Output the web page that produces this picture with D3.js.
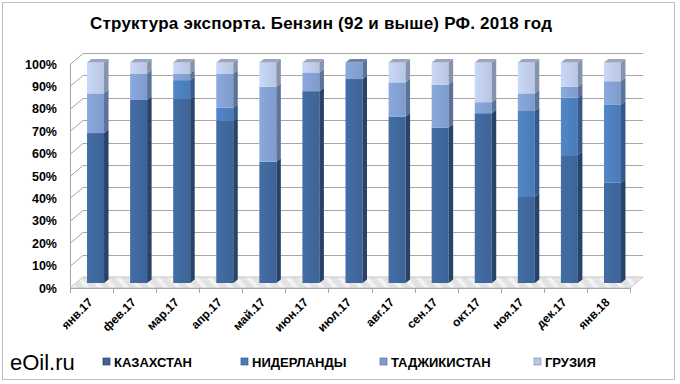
<!DOCTYPE html>
<html>
<head>
<meta charset="utf-8">
<script src="https://cdn.jsdelivr.net/npm/d3@7"></script>
<style>
body{margin:0;background:#fff;}
svg{display:block;font-family:"Liberation Sans",Arial,sans-serif;}
</style>
</head>
<body>
<svg id="chart" width="680" height="384"></svg>
<script>
// months on the x axis
var months = ["янв.17","фев.17","мар.17","апр.17","май.17","июн.17","июл.17","авг.17","сен.17","окт.17","ноя.17","дек.17","янв.18"];
// shares, %
var kazakhstan = [68,83,83.5,73.5,55,87,92.5,75.5,70.5,77,39,58,45.5];
var niderlandy = [0,0,8.5,6,0,0,0,0,0,0,39,26,35.5];
var tadzhikistan = [18,12,3,15.5,34,8.5,7.5,15.5,19.5,5,8,5,10.5];
var gruziya = [14,5,5,5,11,4.5,0,9,10,18,14,11,8.5];
var seriesNames = ["КАЗАХСТАН","НИДЕРЛАНДЫ","ТАДЖИКИСТАН","ГРУЗИЯ"];
var yTicks = [0,10,20,30,40,50,60,70,80,90,100];

var colors = ["#3d6497","#4a7bb7","#7e9bcb","#b8c6e2"];
var sides  = ["#28436a","#34598a","#5b729b","#8593ad"];

var svg = d3.select("#chart");

// outer frame
svg.append("rect").attr("x",2.5).attr("y",2.5).attr("width",672).attr("height",377)
   .attr("fill","#fff").attr("stroke","#bfbfbf").attr("stroke-width",1);

svg.append("text").attr("x",321).attr("y",29).attr("text-anchor","middle")
   .style("font-size","17px").style("font-weight","bold").attr("textLength",462)
   .text("Структура экспорта. Бензин (92 и выше) РФ. 2018 год");

var rows = months.map(function(m,i){
    return {m:m, "КАЗАХСТАН":kazakhstan[i], "НИДЕРЛАНДЫ":niderlandy[i], "ТАДЖИКИСТАН":tadzhikistan[i], "ГРУЗИЯ":gruziya[i]};
});
var stack = d3.stack().keys(seriesNames)(rows);

var x = d3.scaleBand().domain(months).range([70,630]);
var y = d3.scaleLinear().domain([0,100]).range([288,64]);      // front plane (axis)
var yb = d3.scaleLinear().domain([0,100]).range([283,62.5]);   // bar fronts
var dX = 13, dY = -11;          // wall depth
var bw = 17, bdx = 4.5, bdy = -3.5;

var defs = svg.append("defs");
var pat = defs.append("pattern").attr("id","floor").attr("patternUnits","userSpaceOnUse")
   .attr("width",10).attr("height",10).attr("patternTransform","rotate(-40)");
pat.append("rect").attr("width",10).attr("height",10).attr("fill","#e2e2e2");
pat.append("rect").attr("width",4).attr("height",10).attr("fill","#f3f3f3");
colors.forEach(function(c,i){
    var g = defs.append("linearGradient").attr("id","g"+i);
    g.append("stop").attr("offset","0%").attr("stop-color",d3.color(c).brighter(0.25));
    g.append("stop").attr("offset","100%").attr("stop-color",c);
});

// walls: grid on left wall and back wall
var grid = svg.append("g").attr("stroke","#a6a6a6").attr("stroke-width",1).attr("fill","none");
yTicks.forEach(function(t){
    if (t==0) return;
    var yy = Math.round(y(t))+0.5;
    grid.append("line").attr("x1",70).attr("y1",yy).attr("x2",70+dX).attr("y2",yy+dY);
    grid.append("line").attr("x1",70+dX).attr("y1",yy+dY).attr("x2",630+dX).attr("y2",yy+dY);
});
grid.append("line").attr("x1",70.5).attr("y1",y(100)).attr("x2",70.5).attr("y2",y(0)+5);

// floor
svg.append("polygon")
   .attr("points",[[70,y(0)],[630,y(0)],[630+dX,y(0)+dY],[70+dX,y(0)+dY]].join(" "))
   .attr("fill","url(#floor)").attr("stroke","#c4c4c4");

// axis line and ticks
var ax = svg.append("g").attr("stroke","#a6a6a6");
ax.append("line").attr("x1",70).attr("x2",630).attr("y1",288.5).attr("y2",288.5);
d3.range(months.length+1).forEach(function(i){
    var xx = Math.round(70 + i*x.bandwidth())+0.5;
    ax.append("line").attr("x1",xx).attr("x2",xx).attr("y1",288).attr("y2",293);
});

// bars
var bars = svg.append("g");
months.forEach(function(m,i){
    var xl = x(m) + x.bandwidth()/2 - bw/2 + 4, xr = xl + bw;
    var topVal = 0;
    stack.forEach(function(s,k){
        var d = s[i];
        if (d[1]-d[0] <= 0) return;
        var y0 = yb(d[0]), y1 = yb(d[1]);
        bars.append("rect").attr("x",xl).attr("y",y1).attr("width",bw).attr("height",y0-y1)
            .attr("fill","url(#g"+k+")");
        bars.append("polygon")
            .attr("points",[[xr,y1],[xr+bdx,y1+bdy],[xr+bdx,y0+bdy],[xr,y0]].join(" "))
            .attr("fill",sides[k]);
        if (d[1] >= topVal) topVal = d[1];
    });
    // top face
    var lastK = 0;
    stack.forEach(function(s,k){ if (s[i][1]-s[i][0] > 0) lastK = k; });
    var yt = yb(topVal);
    bars.append("polygon")
        .attr("points",[[xl,yt],[xl+bdx,yt+bdy],[xr+bdx,yt+bdy],[xr,yt]].join(" "))
        .attr("fill",d3.color(colors[lastK]).darker(0.5));
});

// y labels
svg.append("g").selectAll("text").data(yTicks).join("text")
   .attr("x",57).attr("y",function(d){return y(d)+4.5;}).attr("text-anchor","end")
   .style("font-size","12.5px").style("font-weight","bold")
   .text(function(d){return d+"%";});

// x labels
svg.append("g").selectAll("text").data(months).join("text")
   .attr("transform",function(d){return "translate("+(x(d)+x.bandwidth()/2+2)+",303) rotate(-45)";})
   .attr("text-anchor","end")
   .style("font-size","12px").style("font-weight","bold")
   .text(function(d){return d;});

// watermark
svg.append("text").attr("x",10).attr("y",370).style("font-size","22px").text("eOil.ru");

// legend
var legX = [103,241,380,534];
var leg = svg.append("g");
seriesNames.forEach(function(n,k){
    leg.append("rect").attr("x",legX[k]).attr("y",358).attr("width",7).attr("height",7)
       .attr("fill",colors[k]).attr("stroke",sides[k]).attr("stroke-width",0.7);
    leg.append("text").attr("x",legX[k]+11).attr("y",367)
       .style("font-size","13px").style("font-weight","bold").text(n);
});
</script>
</body>
</html>
